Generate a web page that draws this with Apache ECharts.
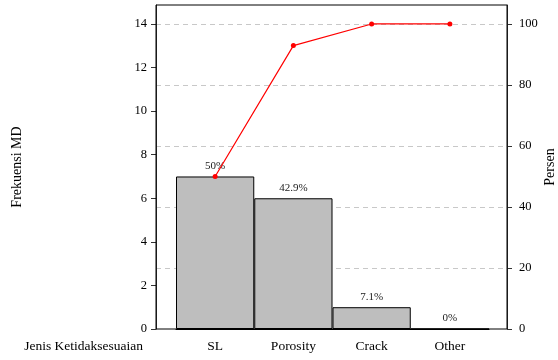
<!DOCTYPE html>
<html>
<head>
<meta charset="utf-8">
<script src="https://cdn.jsdelivr.net/npm/echarts@6/dist/echarts.min.js"></script>
<style>
  html, body { margin: 0; padding: 0; background: #fff; }
  #chart { width: 558px; height: 360px; }
</style>
</head>
<body>
<div id="chart"></div>
<script>
// data
var categories = ["SL", "Porosity", "Crack", "Other"];
var counts = [7, 6, 1, 0];
var cumPercent = [50, 92.9, 100, 100];
var pctLabels = ["50%", "42.9%", "7.1%", "0%"];
var leftTicks = [0, 2, 4, 6, 8, 10, 12, 14];
var rightTicks = [0, 20, 40, 60, 80, 100];

// left max a bit above 14, right axis scaled so 14 <-> 100
var leftMax = 14.87;
var rightMax = leftMax / 14 * 100;

var font = "Liberation Serif";
var chart = echarts.init(document.getElementById("chart"));

chart.setOption({
  animation: false,
  textStyle: { fontFamily: font, color: "#000" },
  grid: [
    // bars + line
    { left: 176, right: 69, top: 5, bottom: 31, outerBoundsMode: "none", containLabel: false },
    // outer frame + gridlines
    { left: 156, right: 51, top: 5, bottom: 31, outerBoundsMode: "none", containLabel: false,
      show: true, borderColor: "#000", borderWidth: 1, z: 3 }
  ],
  xAxis: [
    {
      type: "category",
      gridIndex: 0,
      data: categories,
      name: "Jenis Ketidaksesuaian",
      nameLocation: "start",
      nameGap: 33,
      nameMoveOverlap: false,
      nameTextStyle: { fontFamily: font, fontSize: 13.5, color: "#000", verticalAlign: "top", padding: [10, 0, 0, 0] },
      axisLine: { lineStyle: { color: "#000" } },
      axisTick: { alignWithLabel: true, length: 5, lineStyle: { color: "#000" } },
      axisLabel: { fontFamily: font, fontSize: 13.5, color: "#000", margin: 10 }
    },
    { type: "value", gridIndex: 1, show: false, min: 0, max: 1 }
  ],
  yAxis: [
    {
      type: "value",
      gridIndex: 0,
      position: "left",
      offset: 20,
      min: 0,
      max: leftMax,
      name: "Frekuensi MD",
      nameLocation: "middle",
      nameRotate: 90,
      nameGap: 132,
      nameMoveOverlap: false,
      nameTextStyle: { fontFamily: font, fontSize: 14, color: "#000" },
      axisLine: { show: true, lineStyle: { color: "#333" } },
      axisTick: { show: true, length: 5, customValues: leftTicks, lineStyle: { color: "#333" } },
      axisLabel: { customValues: leftTicks, fontFamily: font, fontSize: 12.5, color: "#000", margin: 9 },
      splitLine: { show: false }
    },
    {
      type: "value",
      gridIndex: 0,
      position: "right",
      offset: 18,
      min: 0,
      max: rightMax,
      name: "Persen",
      nameLocation: "middle",
      nameRotate: 90,
      nameGap: 36,
      nameMoveOverlap: false,
      nameTextStyle: { fontFamily: font, fontSize: 14, color: "#000" },
      axisLine: { show: true, lineStyle: { color: "#333" } },
      axisTick: { show: true, length: 5, customValues: rightTicks, lineStyle: { color: "#333" } },
      axisLabel: { customValues: rightTicks, fontFamily: font, fontSize: 12.5, color: "#000", margin: 12 },
      splitLine: { show: false }
    },
    {
      type: "value",
      gridIndex: 1,
      min: 0,
      max: rightMax,
      interval: 20,
      axisLine: { show: false },
      axisTick: { show: false },
      axisLabel: { show: false },
      splitLine: {
        show: true,
        showMinLine: false,
        showMaxLine: false,
        lineStyle: { color: "#c8c8c8", type: [5, 4], width: 1 }
      }
    }
  ],
  series: [
    {
      type: "bar",
      xAxisIndex: 0,
      yAxisIndex: 0,
      data: counts,
      barWidth: "100%",
      itemStyle: { color: "#bebebe", borderColor: "#000", borderWidth: 1 },
      label: {
        show: true,
        position: "top",
        distance: 5,
        fontFamily: font,
        fontSize: 11,
        color: "#222",
        formatter: function (p) { return pctLabels[p.dataIndex]; }
      },
      z: 2
    },
    {
      type: "line",
      xAxisIndex: 0,
      yAxisIndex: 1,
      data: cumPercent,
      symbol: "circle",
      symbolSize: 5,
      lineStyle: { color: "#ff0000", width: 1.2 },
      itemStyle: { color: "#ff0000" },
      z: 4
    }
  ]
});
</script>
</body>
</html>
